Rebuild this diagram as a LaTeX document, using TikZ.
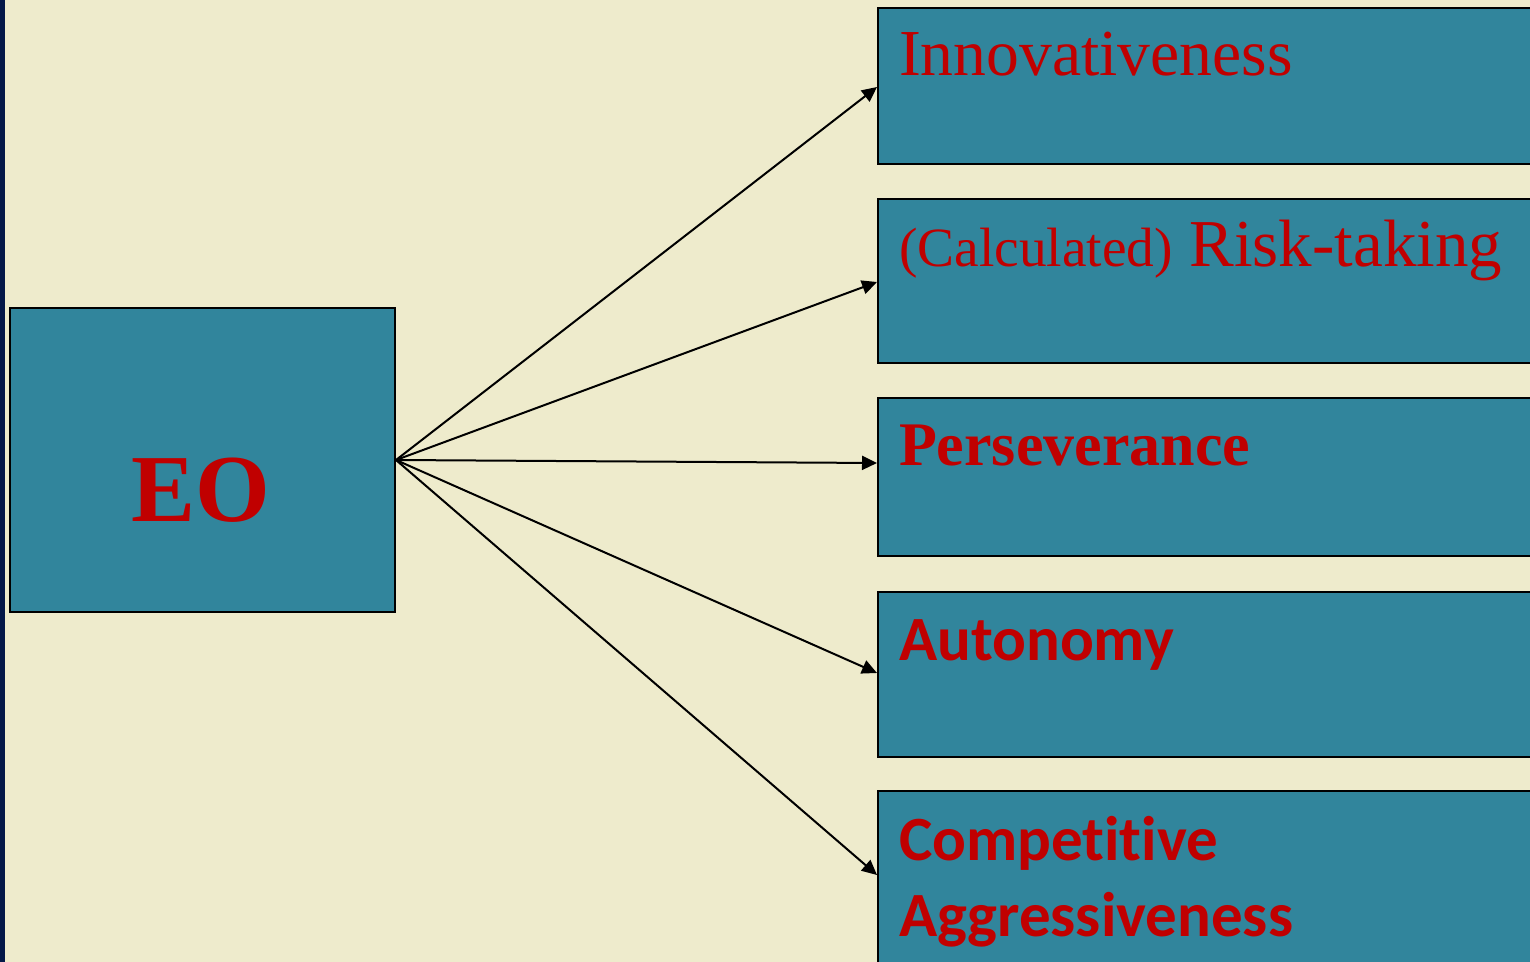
\documentclass[tikz,border=0pt]{standalone}
\usepackage{fontspec}
\setmainfont{Liberation Serif}
\newfontfamily\calibfont[Ligatures=NoCommon]{Carlito}
\usetikzlibrary{arrows.meta, positioning}

\definecolor{slidebg}{RGB}{238,235,204}
\definecolor{slidebar}{RGB}{4,24,72}
\definecolor{boxteal}{RGB}{49,133,156}
\definecolor{labelred}{RGB}{192,0,0}

\begin{document}
\begin{tikzpicture}[
      x=.5pt, y=-.5pt,
      line width=1pt,
      dimbox/.style={draw=black, fill=boxteal, inner sep=0pt, anchor=north west, minimum width=345pt},
      dimlabel/.style={text=labelred, inner sep=0pt, anchor=base west, align=left},
      eoarrow/.style={-{Triangle[length=7.5pt, width=7pt]}}
    ]
    \useasboundingbox (0,0) rectangle (1530,962);
    \clip (0,0) rectangle (1530,962);

    % slide background with the dark bar on the left
    \fill[slidebg] (0,0) rectangle (1530,962);
    \fill[slidebar] (0,0) rectangle (5,962);

    \node[dimbox, anchor=center, minimum width=192.5pt, minimum height=152pt] (eo) at (202.5,460) {};
    \node[dimlabel, anchor=base, font=\bfseries\fontsize{48}{56}\selectfont] (eo-text) at (201,521) {EO};

    \node[dimbox, minimum height=78pt] (innov) at (877,7) {};
    \node[dimbox, minimum height=82pt] (risk) at (877,198) {};
    \node[dimbox, minimum height=79pt] (persev) at (877,397) {};
    \node[dimbox, minimum height=82.5pt] (auton) at (877,591) {};
    \node[dimbox, minimum height=110pt] (compet) at (877,790) {};

    \begin{scope}[every node/.style={dimlabel}]
        \node[font=\fontsize{32.8}{39}\selectfont] (innov-text) at (898,76) {Innovativeness};
        \node[font=\fontsize{33.5}{39}\selectfont] (risk-text) at (898,267)
            {{\fontsize{27.7}{33}\selectfont(Calculated)} Risk-taking};
        \node[font=\bfseries\fontsize{31}{37}\selectfont] (persev-text) at (898,465) {Perseverance};
        \node[font=\calibfont\bfseries\fontsize{31.5}{38}\selectfont] (auton-text) at (898,660) {Autonomy};
        % base of a two-line node sits on its last line
        \node[font=\calibfont\bfseries\fontsize{31.5}{38}\selectfont] (compet-text) at (898,936)
            {Competitive\\Aggressiveness};
    \end{scope}

    % fan of arrows from EO to the dimensions
    \draw[eoarrow] (eo.east) -- ([yshift=-40pt]innov.north west);
    \draw[eoarrow] (eo.east) -- ([yshift=-42pt]risk.north west);
    \draw[eoarrow] (eo.east) -- ([yshift=-33pt]persev.north west);
    \draw[eoarrow] (eo.east) -- ([yshift=-41pt]auton.north west);
    \draw[eoarrow] (eo.east) -- ([yshift=-42.5pt]compet.north west);

\end{tikzpicture}
\end{document}
